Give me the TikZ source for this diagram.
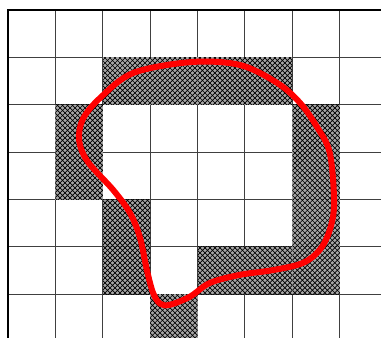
\documentclass[tikz,border=0pt]{standalone}
\usepackage{tikz}
\usetikzlibrary{patterns}

\begin{document}
\begin{tikzpicture}[x=1cm,y=1cm,
    gridline/.style={draw=black!75,line width=0.6pt},
    frame/.style={draw=black,line width=1.6pt},
    shaded/.style={preaction={fill=black!35},pattern=crosshatch,pattern color=black},
    contour/.style={draw=red,line width=3.6pt,line join=round}]
  \useasboundingbox (-0.17,0.21) rectangle (7.87,-6.92);
  % background grid
  \draw[gridline] (0,0) grid (7.87,-6.92);
  % shaded cells (column/row)
  \foreach \c/\r in {2/1,3/1,4/1,5/1,1/2,6/2,1/3,6/3,2/4,6/4,2/5,4/5,5/5,6/5}
    \fill[shaded] (\c,-\r) rectangle ++(1,-1);
  \fill[shaded] (3,-6) rectangle (4,-6.92);
  % outer frame (top and left)
  \draw[frame] (7.87,0) -- (0,0) -- (0,-6.92);
  % closed red curve
  \draw[contour] plot[smooth cycle,tension=0.55] coordinates {
    (3.86,-1.10) (4.89,-1.16) (5.68,-1.54) (6.16,-1.96) (6.52,-2.47)
    (6.79,-3.02) (6.88,-4.07) (6.79,-4.64) (6.58,-5.06) (6.22,-5.34)
    (5.59,-5.49) (4.89,-5.59) (4.26,-5.76) (3.84,-6.05) (3.42,-6.22)
    (3.21,-6.20) (3.06,-5.97) (2.93,-5.49) (2.78,-4.79) (2.57,-4.28)
    (2.22,-3.80) (1.68,-3.20) (1.50,-2.75) (1.58,-2.30) (1.95,-1.85)
    (2.64,-1.33)};
\end{tikzpicture}
\end{document}
